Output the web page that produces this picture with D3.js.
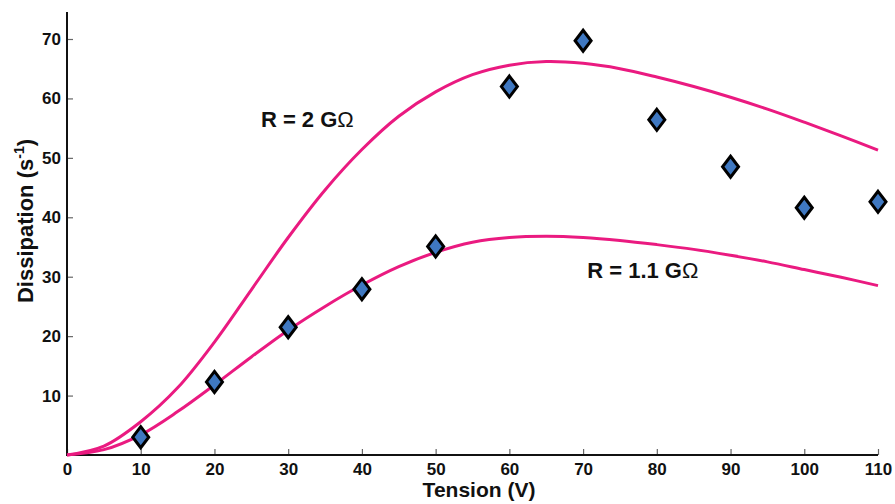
<!DOCTYPE html>
<html><head><meta charset="utf-8">
<script src="https://cdn.jsdelivr.net/npm/d3@7"></script>
<style>body{margin:0;background:#fff}svg{display:block}text{font-family:Arial,"Liberation Sans",sans-serif}</style>
</head><body>
<svg id="c" width="895" height="504"></svg>
<script>
const xTicks = [0,10,20,30,40,50,60,70,80,90,100,110];
const yTicks = [10,20,30,40,50,60,70];
const dataX = [10,20,30,40,50,60,70,80,90,100,110];
const dataY = [3.0,12.3,21.5,27.9,35.1,62.0,69.7,56.4,48.5,41.6,42.6];
const curveX = [0,5,10,15,20,25,30,35,40,45,50,55,60,65,70,75,80,85,90,95,100,105,110];
const curveR2 = [0,1.5,5.6,11.3,19.0,27.8,36.6,44.6,51.4,57.0,61.1,64.0,65.6,66.2,65.9,65.0,63.6,62.0,60.2,58.2,56.0,53.7,51.3];
const curveR11 = [0,0.9,3.4,7.3,11.8,16.5,21.0,25.0,28.6,31.7,34.1,35.8,36.6,36.8,36.6,36.1,35.4,34.6,33.6,32.5,31.2,29.9,28.5];
const labels = [{t:"R = 2 G",x:32.6,y:55.2},{t:"R = 1.1 G",x:78.1,y:29.7}];

const svg = d3.select("#c");
const x = d3.scaleLinear().domain([0,110]).range([67,878]);
const y = d3.scaleLinear().domain([0,70]).range([455,39]);

// axes
const xAxis = svg.append("g").attr("transform","translate(0,455)")
  .call(d3.axisBottom(x).tickValues(xTicks).tickSize(-6).tickPadding(8));
const yAxis = svg.append("g").attr("transform","translate(67,0)")
  .call(d3.axisLeft(y).tickValues(yTicks).tickSize(-6).tickPadding(6));
[xAxis,yAxis].forEach(g=>{
  g.select(".domain").remove();
  g.selectAll(".tick line").attr("stroke","#666").attr("stroke-width",1.2);
  g.selectAll(".tick text").attr("font-size",17).attr("font-weight","bold").attr("fill","#111")
   .attr("font-family","Arial, 'Liberation Sans', sans-serif");
});
// axis lines
svg.append("line").attr("x1",67).attr("x2",67).attr("y1",12).attr("y2",456).attr("stroke","#111").attr("stroke-width",2);
svg.append("line").attr("x1",66).attr("x2",878).attr("y1",455).attr("y2",455).attr("stroke","#111").attr("stroke-width",2);

// curves
const line = d3.line().x((d,i)=>x(curveX[i])).y(d=>y(d)).curve(d3.curveCatmullRom);
[curveR2,curveR11].forEach(c=>{
  svg.append("path").attr("d",line(c)).attr("fill","none").attr("stroke","#ea1a80").attr("stroke-width",3);
});

// diamonds
const diamond = "M0,-10.5L8,0L0,10.5L-8,0Z";
svg.selectAll(".pt").data(dataY).enter().append("path")
  .attr("d",diamond)
  .attr("transform",(d,i)=>`translate(${x(dataX[i])},${y(d)})`)
  .attr("fill","#3f78c1").attr("stroke","#000").attr("stroke-width",3).attr("stroke-linejoin","miter");

// labels
labels.forEach(l=>{
  const t = svg.append("text").attr("x",x(l.x)).attr("y",y(l.y)).attr("text-anchor","middle")
    .attr("font-size",22).attr("font-weight","bold").attr("fill","#111");
  t.append("tspan").text(l.t);
  t.append("tspan").text("Ω").attr("font-weight","normal");
});

// axis titles
svg.append("text").attr("x",479).attr("y",497).attr("text-anchor","middle")
  .attr("font-size",21).attr("font-weight","bold").attr("fill","#111").text("Tension (V)");
const yt = svg.append("text").attr("transform","translate(33,221) rotate(-90)").attr("text-anchor","middle")
  .attr("font-size",22).attr("font-weight","bold").attr("fill","#111");
yt.append("tspan").text("Dissipation (s");
yt.append("tspan").text("-1").attr("font-size",14).attr("dy",-9);
yt.append("tspan").text(")").attr("dy",9);
</script>
</body></html>
